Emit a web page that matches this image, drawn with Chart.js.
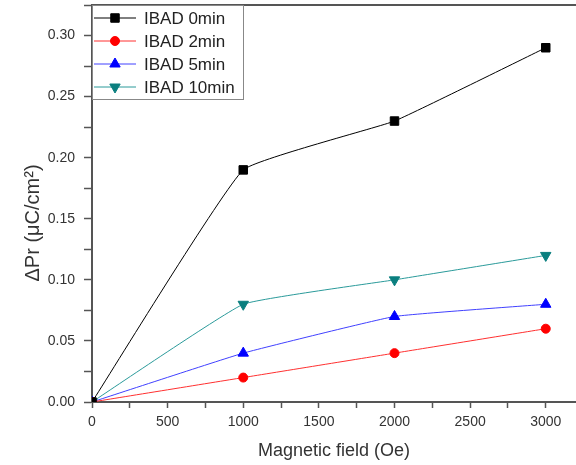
<!DOCTYPE html>
<html>
<head>
<meta charset="utf-8">
<script src="https://cdn.jsdelivr.net/npm/chart.js@4/dist/chart.umd.min.js"></script>
<style>
  body { margin: 0; background: #fff; }
  #wrap { width: 576px; height: 465px; }
</style>
</head>
<body>
<div id="wrap"><canvas id="prChart" width="576" height="465"></canvas></div>
<script>
// Magnetic field (Oe)
const fields = [0, 1000, 2000, 3000];
// Delta Pr (uC/cm2) per IBAD time
const ibad0 = [0, 0.19, 0.23, 0.29];
const ibad2 = [0, 0.02, 0.04, 0.06];
const ibad5 = [0, 0.04, 0.07, 0.08];
const ibad10 = [0, 0.08, 0.10, 0.12];
const seriesLabels = ['IBAD 0min', 'IBAD 2min', 'IBAD 5min', 'IBAD 10min'];

// Tick values (major ones get labels, minor ones sit halfway between)
const xTicks = [0, 500, 1000, 1500, 2000, 2500, 3000];
const yTicks = [0, 0.05, 0.10, 0.15, 0.20, 0.25, 0.30];
const yTitle = 'ΔPr (μC/cm²)';

const axisColor = '#555';
const fontFamily = '"Liberation Sans", Arial, sans-serif';

function withMinor(major, half, limit) {
  const out = [];
  major.forEach((v) => {
    out.push({ value: v, major: true });
    if (v + half <= limit) out.push({ value: v + half, major: false });
  });
  return out;
}

function makeSet(label, values, color, markerColor, style, rotation, radius) {
  return {
    label: label,
    data: fields.map((x, i) => ({ x: x, y: values[i] })),
    borderColor: color,
    borderWidth: 1,
    backgroundColor: markerColor,
    pointBackgroundColor: markerColor,
    pointBorderColor: markerColor,
    pointStyle: style,
    pointRotation: rotation,
    pointRadius: radius,
    pointBorderWidth: 1,
    tension: 0.1,
  };
}

// Legend box inside the plot, top frame line and the y title
const insideLegend = {
  id: 'insideLegend',
  afterDraw(chart) {
    const ctx = chart.ctx;
    const area = chart.chartArea;
    ctx.save();
    ctx.strokeStyle = axisColor;
    ctx.lineWidth = 2;
    ctx.beginPath();
    ctx.moveTo(area.left, area.top);
    ctx.lineTo(area.right, area.top);
    ctx.stroke();

    const boxX = area.left, boxY = area.top, boxW = 151, boxH = 94;
    ctx.lineWidth = 1;
    ctx.strokeStyle = '#888';
    ctx.strokeRect(boxX + 0.5, boxY + 0.5, boxW, boxH);

    ctx.font = '17px ' + fontFamily;
    ctx.textBaseline = 'middle';
    ctx.textAlign = 'left';
    chart.data.datasets.forEach((ds, i) => {
      const y = boxY + 13 + i * 23;
      ctx.strokeStyle = ds.borderColor;
      ctx.lineWidth = 1;
      ctx.beginPath();
      ctx.moveTo(boxX + 2, y);
      ctx.lineTo(boxX + 44, y);
      ctx.stroke();
      ctx.fillStyle = ds.pointBackgroundColor;
      ctx.strokeStyle = ds.pointBorderColor;
      Chart.helpers.drawPoint(ctx, {
        pointStyle: ds.pointStyle,
        rotation: ds.pointRotation,
        radius: ds.pointRadius,
        borderWidth: 1,
      }, boxX + 23, y);
      ctx.fillStyle = '#222';
      ctx.fillText(ds.label, boxX + 52, y + 1);
    });

    // y title sits a bit below the middle of the axis, as in the original
    ctx.translate(33, 223);
    ctx.rotate(-Math.PI / 2);
    ctx.font = '20px ' + fontFamily;
    ctx.fillStyle = '#333';
    ctx.textAlign = 'center';
    ctx.fillText(yTitle, 0, 0);
    ctx.restore();
  },
};

document.addEventListener('DOMContentLoaded', () => {
  const ctx = document.getElementById('prChart').getContext('2d');

  new Chart(ctx, {
    type: 'line',
    data: {
      datasets: [
        makeSet(seriesLabels[0], ibad0, '#000000', '#000000', 'rect', 0, 6),
        makeSet(seriesLabels[1], ibad2, '#ff3030', '#ff0000', 'circle', 0, 4.5),
        makeSet(seriesLabels[2], ibad5, '#4040ff', '#0000ff', 'triangle', 0, 6),
        makeSet(seriesLabels[3], ibad10, '#2a9a9a', '#0a7f7f', 'triangle', 180, 6),
      ],
    },
    options: {
      responsive: false,
      animation: false,
      layout: { autoPadding: false, padding: { top: 5, right: 0, bottom: 0, left: 0 } },
      plugins: {
        legend: { display: false },
        tooltip: { enabled: false },
      },
      scales: {
        x: {
          type: 'linear',
          min: 0,
          max: 3200,
          afterFit: (scale) => {
            scale.height = 63;
            scale.paddingRight = 0;
            scale.paddingLeft = 0;
          },
          afterBuildTicks: (scale) => { scale.ticks = withMinor(xTicks, 250, 3200); },
          grid: { drawOnChartArea: false, tickLength: 6, tickColor: axisColor, tickWidth: 1.5 },
          border: { color: axisColor, width: 2 },
          ticks: {
            autoSkip: false,
            maxRotation: 0,
            padding: 6,
            color: '#333',
            font: { family: fontFamily, size: 14 },
            callback: (v) => (xTicks.includes(v) ? String(v) : ''),
          },
          title: {
            display: true,
            text: 'Magnetic field (Oe)',
            color: '#333',
            font: { family: fontFamily, size: 18 },
            padding: { top: 0, bottom: 3 },
          },
        },
        y: {
          min: 0,
          max: 0.325,
          afterFit: (scale) => {
            scale.width = 92;
            scale.paddingTop = 0;
            scale.paddingBottom = 0;
          },
          afterBuildTicks: (scale) => { scale.ticks = withMinor(yTicks, 0.025, 0.325); },
          grid: { drawOnChartArea: false, tickLength: 8, tickColor: axisColor, tickWidth: 1.5 },
          border: { color: axisColor, width: 2 },
          ticks: {
            autoSkip: false,
            padding: 9,
            color: '#333',
            font: { family: fontFamily, size: 14 },
            callback: (v) => (yTicks.includes(v) ? v.toFixed(2) : ''),
          },
        },
      },
    },
    plugins: [insideLegend],
  });
});
</script>
</body>
</html>
